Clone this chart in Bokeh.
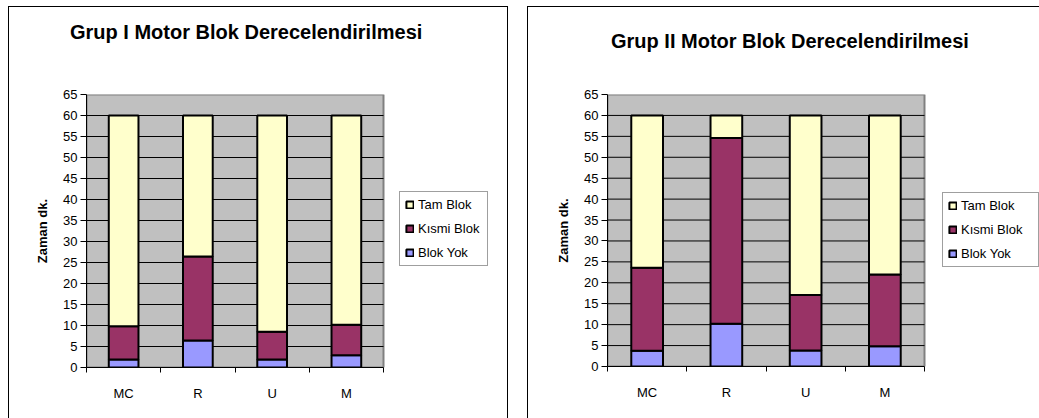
from bokeh.plotting import figure
from bokeh.models import (ColumnDataSource, Range1d, FixedTicker, Legend, LegendItem,
                          InlineStyleSheet, Div)
from bokeh.layouts import row, column
from bokeh.embed import file_html
from bokeh.resources import INLINE

categories = ["MC", "R", "U", "M"]
series_names = ["Blok Yok", "Kısmi Blok", "Tam Blok"]
colors = ["#9999FF", "#993366", "#FFFFCC"]

# Group I
g1_blok_yok = [1.9, 6.4, 1.9, 2.9]
g1_kismi = [7.9, 20.0, 6.6, 7.3]
g1_tam = [50.2, 33.6, 51.5, 49.8]

# Group II
g2_blok_yok = [3.75, 10.2, 3.8, 4.85]
g2_kismi = [19.85, 44.4, 13.3, 17.15]
g2_tam = [36.4, 5.4, 42.9, 38.0]

y_ticks = list(range(0, 70, 5))
y_max = 65

FONT = "Liberation Sans"
HEAD_H = 50


def make_panel(title, blok_yok, kismi, tam, width, height, mb_left, plot_w,
               mb_top, mb_bottom, title_left, title_top, legend_loc,
               label_width, right_border):
    n = len(categories)
    xs = [i + 0.5 for i in range(n)]
    frame_w = width - mb_left
    x_end = n * frame_w / plot_w   # frame extends to the panel edge (legend area)
    src = ColumnDataSource(dict(x=xs, blok_yok=blok_yok, kismi=kismi, tam=tam))
    p = figure(width=width, height=height - HEAD_H, output_backend="svg",
               toolbar_location=None, x_range=Range1d(0, x_end),
               y_range=Range1d(0, y_max),
               min_border_left=mb_left, min_border_right=0,
               min_border_top=mb_top - HEAD_H, min_border_bottom=mb_bottom)

    p.background_fill_color = "white"
    p.border_fill_color = "white"
    p.outline_line_color = None
    p.grid.visible = False

    # plot area (grey) and gridlines
    p.quad(left=[0], right=[n], bottom=[0], top=[y_max], fill_color="#C0C0C0",
           line_color="#808080", line_width=2, level="image")
    gy = y_ticks[1:-1]
    p.segment(x0=[0] * len(gy), x1=[n] * len(gy), y0=gy, y1=gy,
              line_color="black", line_width=1, level="underlay")

    renderers = p.vbar_stack(["blok_yok", "kismi", "tam"], x="x", width=0.4,
                             fill_color=colors, line_color="black",
                             line_width=2, source=src)

    # x axis
    p.xaxis.ticker = FixedTicker(ticks=xs, minor_ticks=list(range(n + 1)))
    p.xaxis.bounds = (0, n)
    p.xaxis.major_label_overrides = {x: c for x, c in zip(xs, categories)}
    p.xaxis.major_tick_out = 0
    p.xaxis.major_tick_in = 0
    p.xaxis.minor_tick_out = 5
    p.xaxis.minor_tick_in = 0
    p.xaxis.minor_tick_line_color = "black"
    p.xaxis.major_label_standoff = 13
    p.xaxis.major_label_text_font = FONT
    p.xaxis.major_label_text_font_size = "13px"
    p.xaxis.major_label_text_color = "black"
    p.xaxis.axis_line_color = "black"

    # y axis
    p.yaxis.ticker = FixedTicker(ticks=y_ticks, minor_ticks=[])
    p.yaxis.bounds = (0, y_max)
    p.yaxis.major_tick_out = 6
    p.yaxis.major_tick_in = 0
    p.yaxis.major_tick_line_color = "black"
    p.yaxis.major_label_standoff = 3
    p.yaxis.major_label_text_font = FONT
    p.yaxis.major_label_text_font_size = "13px"
    p.yaxis.major_label_text_color = "black"
    p.yaxis.axis_line_color = "black"
    p.yaxis.axis_label = "Zaman dk."
    p.yaxis.axis_label_text_font = FONT
    p.yaxis.axis_label_text_font_size = "13px"
    p.yaxis.axis_label_text_font_style = "bold"
    p.yaxis.axis_label_text_color = "black"
    p.yaxis.axis_label_standoff = 10

    items = [LegendItem(label=series_names[i], renderers=[renderers[i]])
             for i in (2, 1, 0)]
    legend = Legend(items=items, location=legend_loc)
    legend.label_text_font = FONT
    legend.label_text_font_size = "13px"
    legend.label_text_color = "black"
    legend.glyph_width = 9
    legend.glyph_height = 9
    legend.label_height = 15
    legend.label_width = label_width
    legend.label_standoff = 4
    legend.spacing = 9
    legend.padding = 5
    legend.margin = 0
    legend.border_line_color = "#404040"
    legend.border_line_width = 1
    legend.background_fill_color = "white"
    legend.background_fill_alpha = 1
    p.add_layout(legend)

    head = Div(
        text=(f'<div style="position:absolute; left:{title_left}px; top:{title_top}px; '
              f'font-family:\'{FONT}\'; font-size:20px; font-weight:bold; '
              f'line-height:23px; white-space:nowrap; color:black;">{title}</div>'),
        width=width, height=HEAD_H, margin=0,
        styles={"background-color": "white"})

    panel = column(head, p, spacing=0)
    css = (":host::after { content: ''; position: absolute; left: 0; top: 0; "
           "right: 0; bottom: 0; border-top: 1px solid black; "
           "border-left: 1px solid black; "
           + ("border-right: 1px solid black; " if right_border else "")
           + "pointer-events: none; z-index: 10; }")
    panel.stylesheets = [InlineStyleSheet(css=css)]
    return panel


p1 = make_panel("Grup I Motor Blok Derecelendirilmesi",
                g1_blok_yok, g1_kismi, g1_tam,
                width=500, height=412, mb_left=78, plot_w=297,
                mb_top=88, mb_bottom=51, title_left=62, title_top=15,
                legend_loc=(313, 101), label_width=64, right_border=True)

p2 = make_panel("Grup II Motor Blok Derecelendirilmesi",
                g2_blok_yok, g2_kismi, g2_tam,
                width=512, height=412, mb_left=80, plot_w=317,
                mb_top=88, mb_bottom=52, title_left=84, title_top=24,
                legend_loc=(335, 99), label_width=72, right_border=False)

layout = row(p1, p2, spacing=19)
layout.margin = (6, 0, 0, 8)

open("out.html", "w").write(file_html(layout, INLINE))
